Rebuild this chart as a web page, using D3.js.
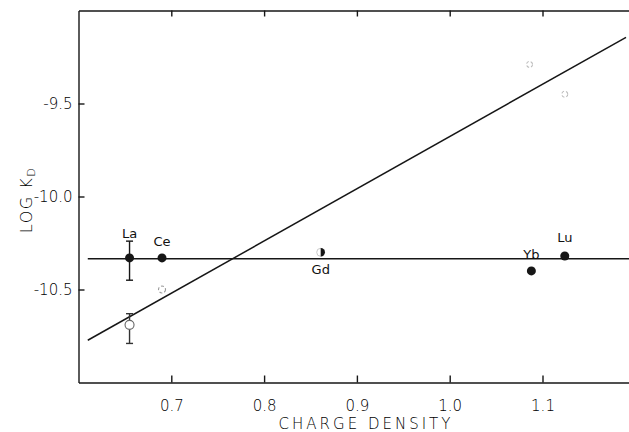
<!DOCTYPE html>
<html>
<head>
<meta charset="utf-8">
<script src="https://cdn.jsdelivr.net/npm/d3@7"></script>
<style>
  body { margin: 0; background: #fff; }
  svg { display: block; }
  text { font-family: "DejaVu Sans", "Liberation Sans", sans-serif; }
</style>
</head>
<body>
<svg width="629" height="432"></svg>
<script>
// data
var ions = ["La", "Ce", "Gd", "Yb", "Lu"];
var chargeDensity = [0.655, 0.690, 0.861, 1.088, 1.124];
var logKdFilled = [-10.33, -10.33, -10.30, -10.40, -10.32];
var markerKind = ["filled", "filled", "half", "filled", "filled"];
var laErrFilled = [-10.45, -10.24];

var openCharge = [0.655, 0.690, 1.086, 1.124];
var logKdOpen = [-10.69, -10.50, -9.29, -9.45];
var laErrOpen = [-10.79, -10.63];

var fitLineX = [0.61, 1.19];
var fitLineY = [-10.773, -9.144];
var meanLineX = [0.61, 1.2];
var meanLineY = [-10.335, -10.335];

var xTicks = [0.7, 0.8, 0.9, 1.0, 1.1];
var xTickLabels = ["0.7", "0.8", "0.9", "1.0", "1.1"];
var yTicks = [-9.5, -10.0, -10.5];
var yTickLabels = ["-9.5", "-10.0", "-10.5"];

var svg = d3.select("svg");
var ink = "#161616";

var x = d3.scaleLinear().domain([0.6, 1.2]).range([78.5, 635.3]);
var y = d3.scaleLinear().domain([-11, -9]).range([382.5, 10.5]);

// axes (ticks point inward)
var gx = svg.append("g")
  .attr("transform", "translate(0," + y(-11) + ")")
  .call(d3.axisBottom(x).tickValues(xTicks).tickSize(-7).tickSizeOuter(0).tickPadding(18)
    .tickFormat(function(d, i) { return xTickLabels[i]; }));
var gt = svg.append("g")
  .attr("transform", "translate(0," + y(-9) + ")")
  .call(d3.axisTop(x).tickValues(xTicks).tickSize(-6).tickSizeOuter(0).tickFormat(""));
var gy = svg.append("g")
  .attr("transform", "translate(" + x(0.6) + ",0)")
  .call(d3.axisLeft(y).tickValues(yTicks).tickSize(-6).tickSizeOuter(0).tickPadding(6)
    .tickFormat(function(d, i) { return yTickLabels[i]; }));

[gx, gt, gy].forEach(function(g) {
  g.selectAll("path, line").attr("stroke", ink).attr("stroke-width", 1.4);
  g.selectAll("text").style("font-size", "15px").style("font-weight", "200").attr("fill", "#000");
});

// axis titles
svg.append("text")
  .attr("x", 366).attr("y", 429)
  .attr("text-anchor", "middle")
  .style("font-size", "15px").style("letter-spacing", "3px").style("font-weight", "200")
  .attr("fill", "#000")
  .text("CHARGE DENSITY");

var ylab = svg.append("text")
  .attr("transform", "translate(32,200) rotate(-90)")
  .attr("text-anchor", "middle")
  .attr("fill", "#000")
  .style("font-size", "16px").style("letter-spacing", "1.5px").style("font-weight", "200");
ylab.append("tspan").text("LOG  K");
ylab.append("tspan").attr("dy", 3).style("font-size", "11px").text("D");

// fitted lines
var line = d3.line().x(function(d) { return x(d[0]); }).y(function(d) { return y(d[1]); });
svg.append("path")
  .attr("d", line(d3.zip(fitLineX, fitLineY)))
  .attr("fill", "none").attr("stroke", ink).attr("stroke-width", 1.5);
svg.append("path")
  .attr("d", line(d3.zip(meanLineX, meanLineY)))
  .attr("fill", "none").attr("stroke", ink).attr("stroke-width", 1.5);

// error bars for La
function errorBar(cx, lo, hi, color) {
  var g = svg.append("g").attr("stroke", color).attr("stroke-width", 1.4);
  g.append("line").attr("x1", x(cx)).attr("x2", x(cx)).attr("y1", y(lo)).attr("y2", y(hi));
  [lo, hi].forEach(function(v) {
    g.append("line").attr("x1", x(cx) - 3.5).attr("x2", x(cx) + 3.5).attr("y1", y(v)).attr("y2", y(v));
  });
}
errorBar(chargeDensity[0], laErrFilled[0], laErrFilled[1], ink);
errorBar(openCharge[0], laErrOpen[0], laErrOpen[1], "#333");

// open circles (faint in the original print)
var openStroke = ["#666", "#999", "#bbb", "#bbb"];
var openR = [4.5, 3.5, 3, 3];
svg.selectAll(".open")
  .data(openCharge)
  .enter()
  .append("circle")
  .attr("class", "open")
  .attr("cx", function(d) { return x(d); })
  .attr("cy", function(d, i) { return y(logKdOpen[i]); })
  .attr("r", function(d, i) { return openR[i]; })
  .attr("fill", "#fff")
  .attr("stroke", function(d, i) { return openStroke[i]; })
  .attr("stroke-width", 1.1)
  .attr("stroke-dasharray", function(d, i) { return i == 0 ? null : "3,2"; });

// filled circles
var gs = svg.selectAll(".pt")
  .data(chargeDensity)
  .enter()
  .append("g")
  .attr("class", "pt")
  .attr("transform", function(d, i) { return "translate(" + x(d) + "," + y(logKdFilled[i]) + ")"; });

gs.filter(function(d, i) { return markerKind[i] == "filled"; })
  .append("circle").attr("r", 4.5).attr("fill", ink);

var half = gs.filter(function(d, i) { return markerKind[i] == "half"; });
half.append("circle").attr("r", 4).attr("fill", "#fff").attr("stroke", "#bbb").attr("stroke-width", 0.8);
half.append("path")
  .attr("d", d3.arc().innerRadius(0).outerRadius(4.2).startAngle(0).endAngle(Math.PI))
  .attr("fill", ink);

// ion labels
var labelDy = [-24, -16, 17, -16, -19];
gs.append("text")
  .attr("text-anchor", "middle")
  .attr("y", function(d, i) { return labelDy[i]; })
  .attr("dy", "0.35em")
  .style("font-size", "13px")
  .attr("fill", "#111")
  .text(function(d, i) { return ions[i]; });
</script>
</body>
</html>
